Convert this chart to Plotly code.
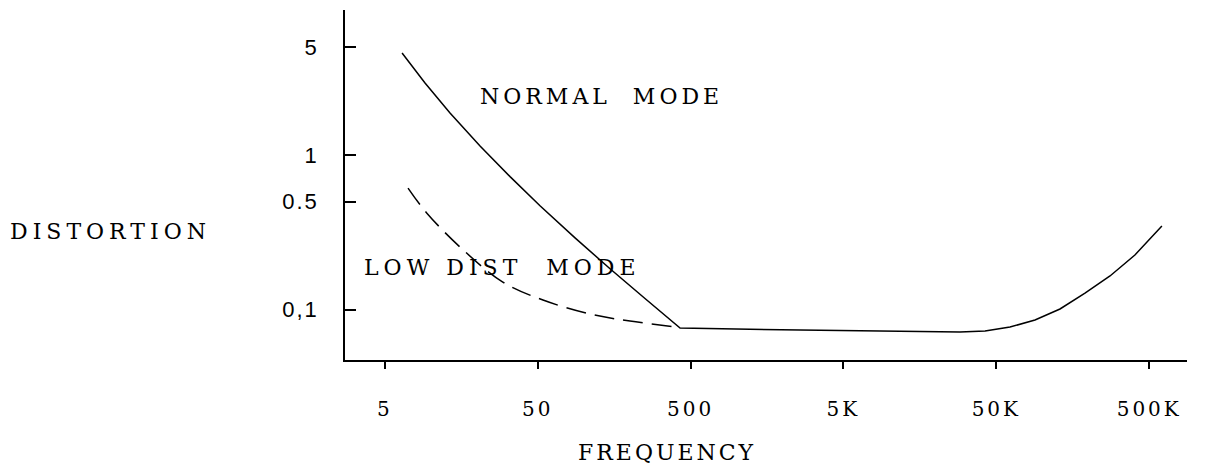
import plotly.graph_objects as go

# ---- data ----
normal_freq = [6.49, 9.17, 13.36, 21.0, 33.0, 51.8, 87.8, 148.7, 251.8, 427,
               2600, 11700, 28900, 42200, 61400, 89500, 130400, 190000, 277000, 403000, 605000]
normal_dist = [4.57, 2.92, 1.87, 1.143, 0.725, 0.470, 0.291, 0.1838, 0.1179, 0.076,
               0.0738, 0.0721, 0.0716, 0.0727, 0.0771, 0.0856, 0.1009, 0.128, 0.165, 0.2254, 0.347]

lowdist_freq = [7.1, 9.4, 16.3, 29.6, 54.2, 110, 201, 407]
lowdist_dist = [0.611, 0.422, 0.243, 0.1508, 0.1153, 0.0936, 0.0843, 0.0771]

x_tickvals = [5, 50, 500, 5000, 50000, 500000]
x_ticktext = ["5", "50", "500", "5K", "50K", "500K"]
y_tickvals = [0.1, 0.5, 1, 5]
y_ticktext = ["0,1", "0.5", "1", "5"]

SERIF = "DejaVu Serif"

def spaced(t, px):
    return f"<span style='letter-spacing:{px}px'>{t}</span>"

fig = go.Figure()
fig.add_trace(go.Scatter(x=normal_freq, y=normal_dist, mode="lines",
                         line=dict(color="black", width=1.5, shape="linear"),
                         showlegend=False, hoverinfo="skip"))
fig.add_trace(go.Scatter(x=lowdist_freq, y=lowdist_dist, mode="lines",
                         line=dict(color="black", width=1.5, dash="20px,9px", shape="spline", smoothing=1.0),
                         showlegend=False, hoverinfo="skip"))

fig.update_xaxes(type="log", range=[0.439, 5.946], showgrid=False, zeroline=False,
                 showline=True, linecolor="black", linewidth=1.5,
                 ticks="outside", ticklen=7, tickwidth=1.5, tickcolor="black",
                 tickvals=x_tickvals, ticktext=[spaced(t, 3) for t in x_ticktext],
                 tickfont=dict(family=SERIF, size=20, color="black"),
                 ticklabelstandoff=23)
fig.update_yaxes(type="log", range=[-1.326, 0.938], showgrid=False, zeroline=False,
                 showline=True, linecolor="black", linewidth=1.5,
                 ticks="inside", ticklen=11, tickwidth=1.5, tickcolor="black",
                 tickvals=y_tickvals, ticktext=[spaced(t, 2) for t in y_ticktext],
                 tickfont=dict(family="Liberation Sans", size=22, color="black"),
                 ticklabelstandoff=20)

ann_font = dict(family=SERIF, size=22, color="black")
fig.add_annotation(x=-0.400, y=0.366, xref="paper", yref="paper", xanchor="left", yanchor="middle",
                   text=spaced("DISTORTION", 5), showarrow=False, font=ann_font)
fig.add_annotation(x=0.382, y=-0.263, xref="paper", yref="paper", xanchor="center", yanchor="middle",
                   text=spaced("FREQUENCY", 3), showarrow=False, font=ann_font)
fig.add_annotation(x=0.158, y=0.754, xref="paper", yref="paper", xanchor="left", yanchor="middle",
                   text=spaced("NORMAL  MODE", 4), showarrow=False, font=ann_font)
fig.add_annotation(x=0.020, y=0.263, xref="paper", yref="paper", xanchor="left", yanchor="middle",
                   text=spaced("LOW DIST  MODE", 5), showarrow=False, font=ann_font)

# the page body adds an 8px margin, so the margins are set to compensate
fig.update_layout(width=1209, height=475, margin=dict(l=337, r=30, t=2, b=123),
                  paper_bgcolor="white", plot_bgcolor="white")

fig.write_html("out.html")
